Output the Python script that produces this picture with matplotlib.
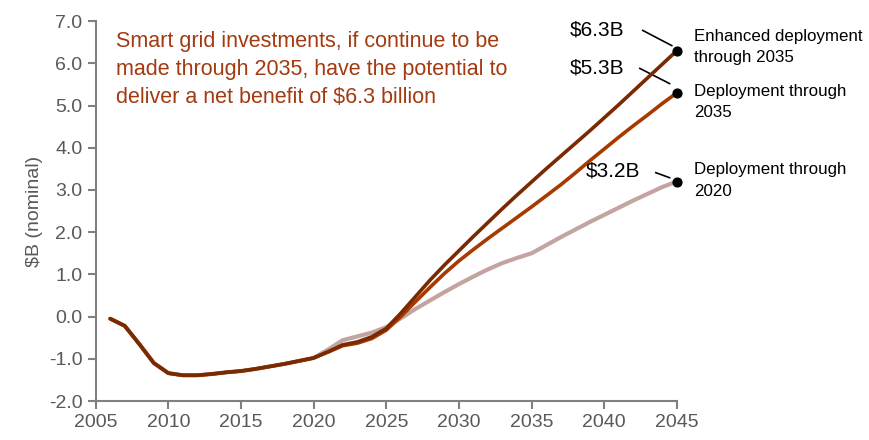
import matplotlib.pyplot as plt
import numpy as np

plt.rcParams['font.family'] = ['Liberation Sans', 'DejaVu Sans']

years = np.arange(2006, 2046)

# shared history 2006-2020
base = [-0.05, -0.22, -0.65, -1.10, -1.34, -1.39, -1.39, -1.36, -1.32, -1.29,
        -1.24, -1.18, -1.12, -1.05, -0.98]

enhanced_2035 = base + [-0.83, -0.67, -0.60, -0.48, -0.28,
                        0.08, 0.47, 0.86, 1.22, 1.56, 1.90, 2.23, 2.56, 2.88, 3.19,
                        3.50, 3.80, 4.10, 4.40, 4.71, 5.02, 5.34, 5.66, 5.98, 6.30]
deploy_2035 = base + [-0.84, -0.69, -0.63, -0.52, -0.32,
                      0.00, 0.35, 0.69, 1.02, 1.32, 1.59, 1.85, 2.10, 2.35, 2.60,
                      2.86, 3.12, 3.40, 3.69, 3.97, 4.25, 4.52, 4.78, 5.05, 5.30]
deploy_2020 = base + [-0.78, -0.56, -0.47, -0.38, -0.25,
                      -0.04, 0.18, 0.38, 0.58, 0.77, 0.95, 1.12, 1.27, 1.39, 1.50,
                      1.69, 1.88, 2.06, 2.24, 2.41, 2.58, 2.75, 2.91, 3.07, 3.20]

end_labels = ['$6.3B', '$5.3B', '$3.2B']
series_names = ['Enhanced deployment\nthrough 2035', 'Deployment through\n2035',
                'Deployment through\n2020']

grey = '#595959'

fig = plt.figure(figsize=(8.7, 4.4), dpi=100)
ax = fig.add_axes([0.110, 0.0886, 0.668, 0.8634])

ax.plot(years, deploy_2020, color='#c4a4a0', lw=3, solid_capstyle='round', zorder=2)
ax.plot(years, deploy_2035, color='#a63a00', lw=2.6, solid_capstyle='round', zorder=3)
ax.plot(years, enhanced_2035, color='#7a2a00', lw=2.6, solid_capstyle='round', zorder=4)

ends = [enhanced_2035[-1], deploy_2035[-1], deploy_2020[-1]]
ax.scatter([2045] * 3, ends, s=40, color='black', zorder=5, clip_on=False)

# value labels with short leader lines
lab_pos = [(2041.4, 6.8), (2041.4, 5.88), (2042.5, 3.45)]
lead = [((2042.65, 6.78), (2044.65, 6.42)),
        ((2042.45, 5.88), (2044.5, 5.52)),
        ((2043.55, 3.41), (2044.5, 3.29))]
for txt, (lx, ly), (p0, p1) in zip(end_labels, lab_pos, lead):
    ax.text(lx, ly, txt, ha='right', va='center', fontsize=15, color='black')
    ax.plot([p0[0], p1[0]], [p0[1], p1[1]], color='black', lw=1.2, clip_on=False)

name_pos = [6.39, 5.08, 3.23]
for y, name in zip(name_pos, series_names):
    ax.text(2046.2, y, name, ha='left', va='center', fontsize=12.2, color='black',
            linespacing=1.55)

ax.text(2006.4, 5.85, 'Smart grid investments, if continue to be\n'
        'made through 2035, have the potential to\n'
        'deliver a net benefit of $6.3 billion',
        ha='left', va='center', fontsize=15.5, color='#a33a10', linespacing=1.45)

ax.set_xlim(2005, 2045)
ax.set_ylim(-2, 7)
ax.set_xticks(np.arange(2005, 2046, 5))
ax.set_yticks(np.arange(-2, 7.1, 1))
ax.set_yticklabels(['%.1f' % t for t in np.arange(-2, 7.1, 1)])
ax.set_ylabel('$B (nominal)', fontsize=14, color=grey, labelpad=4)

for s in ['top', 'right']:
    ax.spines[s].set_visible(False)
for s in ['left', 'bottom']:
    ax.spines[s].set_color('#808080')
    ax.spines[s].set_linewidth(1.5)
ax.tick_params(colors='#808080', labelcolor=grey, labelsize=14, width=1.5, length=6)

fig.savefig('out.png', dpi=100)
